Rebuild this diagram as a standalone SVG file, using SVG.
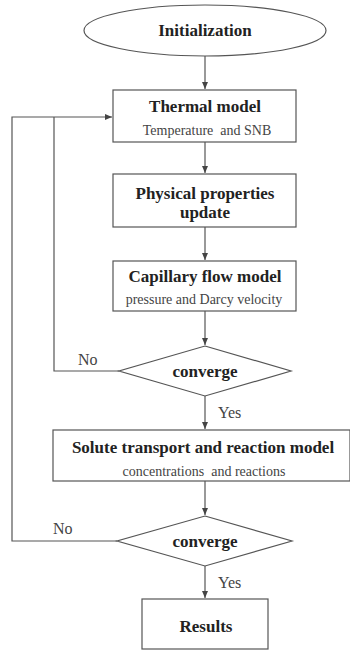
<svg xmlns="http://www.w3.org/2000/svg" width="350" height="651" viewBox="0 0 350 651">
<style>
.shape{fill:#fff;stroke:#555;stroke-width:1.2}
.line{fill:none;stroke:#555;stroke-width:1.2}
.t{font-family:'Liberation Serif','Times New Roman','DejaVu Serif',serif;font-weight:bold;font-size:17px;fill:#222;text-anchor:middle}
.s{font-family:'Liberation Serif','Times New Roman','DejaVu Serif',serif;font-size:14px;fill:#444;text-anchor:middle}
.l{font-family:'Liberation Serif','Times New Roman','DejaVu Serif',serif;font-size:16px;fill:#444}
</style>
<defs>
<marker id="ah" markerWidth="8" markerHeight="8" refX="7" refY="4" orient="auto" markerUnits="userSpaceOnUse">
<path d="M0,1 L7,4 L0,7 Z" fill="#444"/>
</marker>
</defs>
<rect width="350" height="651" fill="#fff"/>
<g id="connectors">
<line class="line" x1="205" y1="56" x2="205" y2="89" marker-end="url(#ah)"/>
<line class="line" x1="205" y1="142" x2="205" y2="173" marker-end="url(#ah)"/>
<line class="line" x1="205" y1="227" x2="205" y2="260" marker-end="url(#ah)"/>
<line class="line" x1="205" y1="311" x2="205" y2="345" marker-end="url(#ah)"/>
<line class="line" x1="205" y1="396" x2="205" y2="429" marker-end="url(#ah)"/>
<line class="line" x1="205" y1="481" x2="205" y2="515" marker-end="url(#ah)"/>
<line class="line" x1="205" y1="566" x2="205" y2="598" marker-end="url(#ah)"/>
<polyline class="line" points="119,371 54,371 54,117"/>
<polyline class="line" points="117,541 12,541 12,117 112,117" marker-end="url(#ah)"/>
<text class="l" x="78" y="365">No</text>
<text class="l" x="53" y="534">No</text>
<text class="l" x="218" y="418">Yes</text>
<text class="l" x="218" y="588">Yes</text>
</g>
<g id="init">
<ellipse class="shape" cx="205" cy="30.5" rx="121" ry="25.5"/>
<text class="t" x="205" y="36">Initialization</text>
</g>
<g id="thermal">
<rect class="shape" x="113" y="90" width="183" height="52"/>
<text class="t" x="205" y="112">Thermal model</text>
<text class="s" x="207" y="135" xml:space="preserve">Temperature  and SNB</text>
</g>
<g id="physical">
<rect class="shape" x="113" y="174" width="183" height="53"/>
<text class="t" x="205" y="199">Physical properties</text>
<text class="t" x="205" y="218">update</text>
</g>
<g id="capillary">
<rect class="shape" x="113" y="261" width="183" height="50"/>
<text class="t" x="205" y="282">Capillary flow model</text>
<text class="s" x="204" y="304">pressure and Darcy velocity</text>
</g>
<g id="converge1">
<polygon class="shape" points="205,346 291,371 205,396 119,371"/>
<text class="t" x="205" y="377">converge</text>
</g>
<g id="solute">
<rect class="shape" x="53" y="430" width="297" height="51"/>
<text class="t" x="203" y="453">Solute transport and reaction model</text>
<text class="s" x="204" y="476" xml:space="preserve">concentrations  and reactions</text>
</g>
<g id="converge2">
<polygon class="shape" points="205,516 292,541 205,566 117,541"/>
<text class="t" x="205" y="547">converge</text>
</g>
<g id="results">
<rect class="shape" x="142" y="599" width="126" height="50"/>
<text class="t" x="206" y="632">Results</text>
</g>
</svg>
